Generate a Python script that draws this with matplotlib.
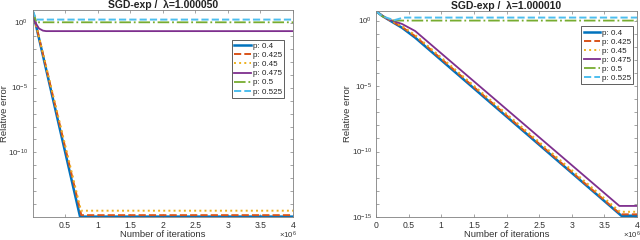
import numpy as np
import matplotlib
matplotlib.use("Agg")
import matplotlib.pyplot as plt
from matplotlib.ticker import FixedLocator, FuncFormatter, NullLocator

plt.rcParams['font.family'] = ['Liberation Sans', 'DejaVu Sans']
plt.rcParams['mathtext.fontset'] = 'custom'
plt.rcParams['mathtext.rm'] = 'Liberation Sans'
plt.rcParams['mathtext.it'] = 'Liberation Sans:italic'

labels = ['p: 0.4', 'p: 0.425', 'p: 0.45', 'p: 0.475', 'p: 0.5', 'p: 0.525']
colors = ['#0072BD', '#D95319', '#EDB120', '#7E2F8E', '#77AC30', '#4DBEEE']
styles = ['-', '--', ':', '-', '-.', '--']
widths = [1.8, 1.4, 1.4, 1.3, 1.3, 1.4]

# ---- Left panel: lambda = 1.000050 (x in iterations, y relative error) ----
L_title = 'SGD-exp /  λ=1.000050'
L_x = [
    [1, 0.73e6, 4e6],
    [1, 0.75e6, 4e6],
    [1, 0.745e6, 4e6],
    [1, 0.03e6, 0.1e6, 0.16e6, 0.21e6, 4e6],
    [1, 0.06e6, 4e6],
    [1, 0.06e6, 4e6],
]
L_y = [
    [9.0, 1.15e-15, 1.15e-15],
    [9.0, 1.5e-15, 1.5e-15],
    [9.0, 3.3e-15, 3.3e-15],
    [9.0, 1.3, 0.35, 0.24, 0.22, 0.22],
    [9.0, 1.05, 1.05],
    [9.0, 1.7, 1.7],
]

# ---- Right panel: lambda = 1.000010 ----
R_title = 'SGD-exp /  λ=1.000010'
R_x = [
    [0, 0.1e6, 0.2e6, 0.4e6, 0.6e6, 3.76e6, 4e6],
    [0, 0.1e6, 0.2e6, 0.4e6, 0.6e6, 3.75e6, 4e6],
    [0, 0.1e6, 0.2e6, 0.4e6, 0.6e6, 3.74e6, 4e6],
    [0, 0.1e6, 0.2e6, 0.4e6, 0.6e6, 3.73e6, 4e6],
    [0, 0.1e6, 0.25e6, 0.35e6, 4e6],
    [0, 0.1e6, 0.28e6, 0.42e6, 4e6],
]
R_y = [
    [5.3, 2.2, 1.1, 0.28, 0.05, 1.25e-15, 1.25e-15],
    [5.3, 2.2, 1.12, 0.32, 0.065, 1.6e-15, 1.6e-15],
    [5.3, 2.2, 1.15, 0.38, 0.08, 2.5e-15, 2.5e-15],
    [5.3, 2.3, 1.2, 0.55, 0.16, 7e-15, 7e-15],
    [5.3, 2.1, 1.05, 1.0, 1.0],
    [5.3, 2.1, 1.07, 1.7, 1.7],
]

x_ticks = [0, 0.5e6, 1e6, 1.5e6, 2e6, 2.5e6, 3e6, 3.5e6, 4e6]
y_decades = list(range(-15, 1))

TXT = '#333333'
SP = '#808080'

fig = plt.figure(figsize=(6.4, 2.4), dpi=100)
axL = fig.add_axes([32.5/640, 1-217/240, 260.5/640, 207/240])
axR = fig.add_axes([376/640, 1-217/240, 261/640, 206/240])


def style(ax, title, xlim, ylim, legloc, ylab_x):
    ax.set_yscale('log')
    ax.set_xlim(*xlim)
    ax.set_ylim(*ylim)
    ax.xaxis.set_major_locator(FixedLocator(x_ticks))
    ax.xaxis.set_major_formatter(FuncFormatter(lambda v, p: ('%g' % (v/1e6))))
    ax.yaxis.set_major_locator(FixedLocator([10.0**d for d in y_decades]))
    ax.yaxis.set_major_formatter(FuncFormatter(
        lambda v, p: (r'$10^{%d}$' % round(np.log10(v))) if round(np.log10(v)) % 5 == 0 else ''))
    ax.yaxis.set_minor_locator(NullLocator())
    ax.tick_params(direction='in', top=True, right=True, length=2.5, width=0.5,
                   colors=SP, labelcolor=TXT, labelsize=6.2)
    ax.tick_params(axis='x', pad=2.8)
    ax.tick_params(axis='y', pad=3, labelsize=5.8)
    for s in ax.spines.values():
        s.set_color(SP)
        s.set_linewidth(0.6)
    ax.set_title(title, fontsize=7.5, fontweight='bold', color='#222222', pad=1.5)
    ax.set_xlabel('Number of iterations', fontsize=6.8, color=TXT)
    ax.xaxis.set_label_coords(0.5, -0.064)
    ax.set_ylabel('Relative error', fontsize=6.8, color=TXT)
    ax.yaxis.set_label_coords(ylab_x, 0.5)
    ax.text(1.015, -0.115, r'$\times 10^{6}$', transform=ax.transAxes, ha='right',
            va='bottom', fontsize=5.6, color=TXT)
    leg = ax.legend(loc='upper left', bbox_to_anchor=legloc, fontsize=5.8,
                    frameon=True, fancybox=False, framealpha=1, edgecolor='#444444',
                    handlelength=2.1, handletextpad=0.15, labelspacing=0.18,
                    borderpad=0.3, borderaxespad=0)
    leg.get_frame().set_linewidth(0.6)
    for t in leg.get_texts():
        t.set_color('#222222')


for i in range(6):
    axL.plot(L_x[i], L_y[i], linestyle=styles[i], color=colors[i], lw=widths[i], label=labels[i])
    axR.plot(R_x[i], R_y[i], linestyle=styles[i], color=colors[i], lw=widths[i], label=labels[i])

style(axL, L_title, (1, 4e6), (1.08e-15, 9.3), (0.766, 0.855), -(32.5 - 9.5) / 260.5)
style(axR, R_title, (0, 4e6), (1e-15, 5.4), (0.786, 0.925), -(376 - 352.5) / 261)

fig.savefig('out.png', dpi=100)
